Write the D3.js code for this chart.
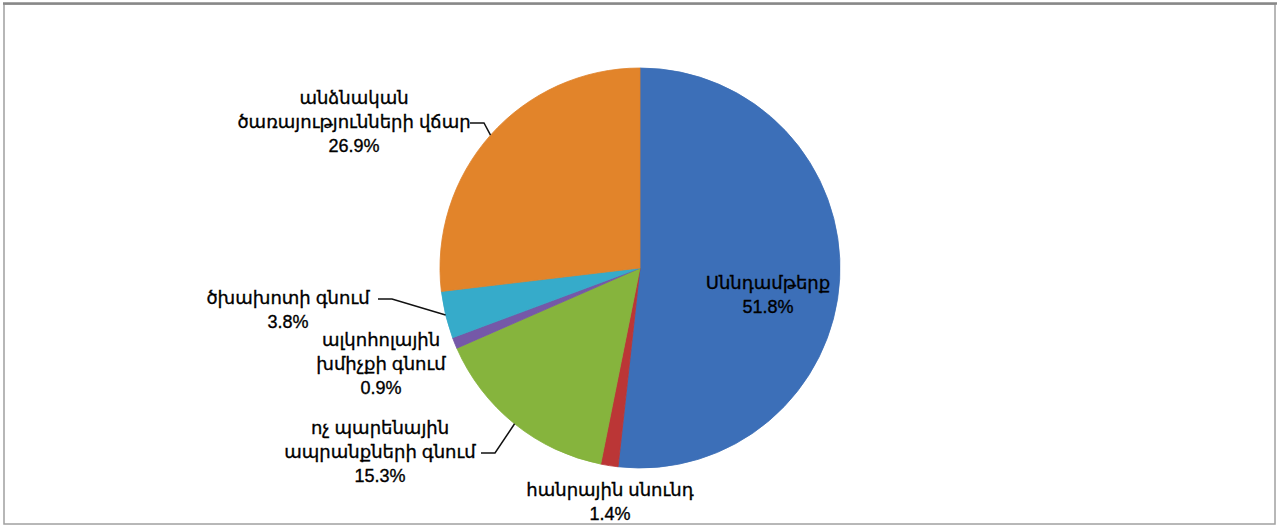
<!DOCTYPE html>
<html>
<head>
<meta charset="utf-8">
<script src="https://cdn.jsdelivr.net/npm/d3@7"></script>
<style>
  body { margin: 0; background: #fff; }
  text { font-family: Arial, "Liberation Sans", "DejaVu Sans", sans-serif; fill: #000; stroke: #000; stroke-width: 0.35px; }
</style>
</head>
<body>
<div id="chart-area"></div>
<script>
// slices, clockwise from 12 o'clock
let categories = [
  ["Սննդամթերք"],
  ["հանրային սնունդ"],
  ["ոչ պարենային", "ապրանքների գնում"],
  ["ալկոհոլային", "խմիչքի գնում"],
  ["ծխախոտի գնում"],
  ["անձնական", "ծառայությունների վճար"]
];
let values = [51.8, 1.4, 15.3, 0.9, 3.8, 26.9];
let colors = ["#4279c9", "#cc3b3b", "#93c543", "#8060b8", "#3bbbdd", "#f7902e"];

// label anchor (centre of text block) and whether a leader line is drawn
let labelPos = [
  { x: 768, y: 283, leader: false },
  { x: 610, y: 490, leader: false },
  { x: 380, y: 428, leader: true, side: 481 },
  { x: 381, y: 340, leader: false },
  { x: 288, y: 298, leader: true, side: 378 },
  { x: 354, y: 98, leader: true, side: 470 }
];

let width = 1280, height = 529;
let cx = 640, cy = 268, r = 200;

let svg = d3.select("#chart-area").append("svg").attr("width", width).attr("height", height);

// frame
svg.append("rect").attr("x", 4).attr("y", 4).attr("width", 1271).attr("height", 520)
  .attr("fill", "#fff").attr("stroke", "#a0a0a0").attr("stroke-width", 1.5);
svg.append("line").attr("x1", 3).attr("x2", 1277).attr("y1", 3.5).attr("y2", 3.5)
  .attr("stroke", "#888").attr("stroke-width", 2.5);

let defs = svg.append("defs");
colors.forEach((c, i) => {
  let g = defs.append("radialGradient").attr("id", "g" + i)
    .attr("gradientUnits", "userSpaceOnUse").attr("cx", cx).attr("cy", cy).attr("r", r);
  g.append("stop").attr("offset", "0%").attr("stop-color", d3.color(c).brighter(0.1));
  g.append("stop").attr("offset", "90%").attr("stop-color", c);
  g.append("stop").attr("offset", "100%").attr("stop-color", d3.color(c).darker(0.25));
});

let pie = d3.pie().sort(null).value(d => d);
let arcs = pie(values);
let arc = d3.arc().innerRadius(0).outerRadius(r);

let g = svg.append("g").attr("transform", `translate(${cx},${cy})`);
g.selectAll("path").data(arcs).enter()
  .append("path")
    .attr("d", arc)
    .attr("fill", (d, i) => `url(#g${i})`)
    .attr("stroke", (d, i) => d3.color(colors[i]).darker(0.3))
    .attr("stroke-width", 0.8);

// labels
let lineH = 24;
arcs.forEach((d, i) => {
  let p = labelPos[i];
  let lines = categories[i].concat([d3.format(".1f")(values[i]) + "%"]);
  let t = svg.append("text").attr("text-anchor", "middle").style("font-size", "18px");
  lines.forEach((ln, k) => {
    t.append("tspan").attr("x", p.x).attr("y", p.y + k * lineH + 6).text(ln);
  });

  if (p.leader) {
    let a = (d.startAngle + d.endAngle) / 2;
    let ex = cx + r * Math.sin(a), ey = cy - r * Math.cos(a);
    let ly = p.y + (categories[i].length - 1) * lineH + 1;
    let kx = p.side + 14;
    svg.append("path")
      .attr("d", `M${p.side},${ly}L${kx},${ly}L${ex},${ey}`)
      .attr("fill", "none").attr("stroke", "#111").attr("stroke-width", 1.5);
  }
});
</script>
</body>
</html>
